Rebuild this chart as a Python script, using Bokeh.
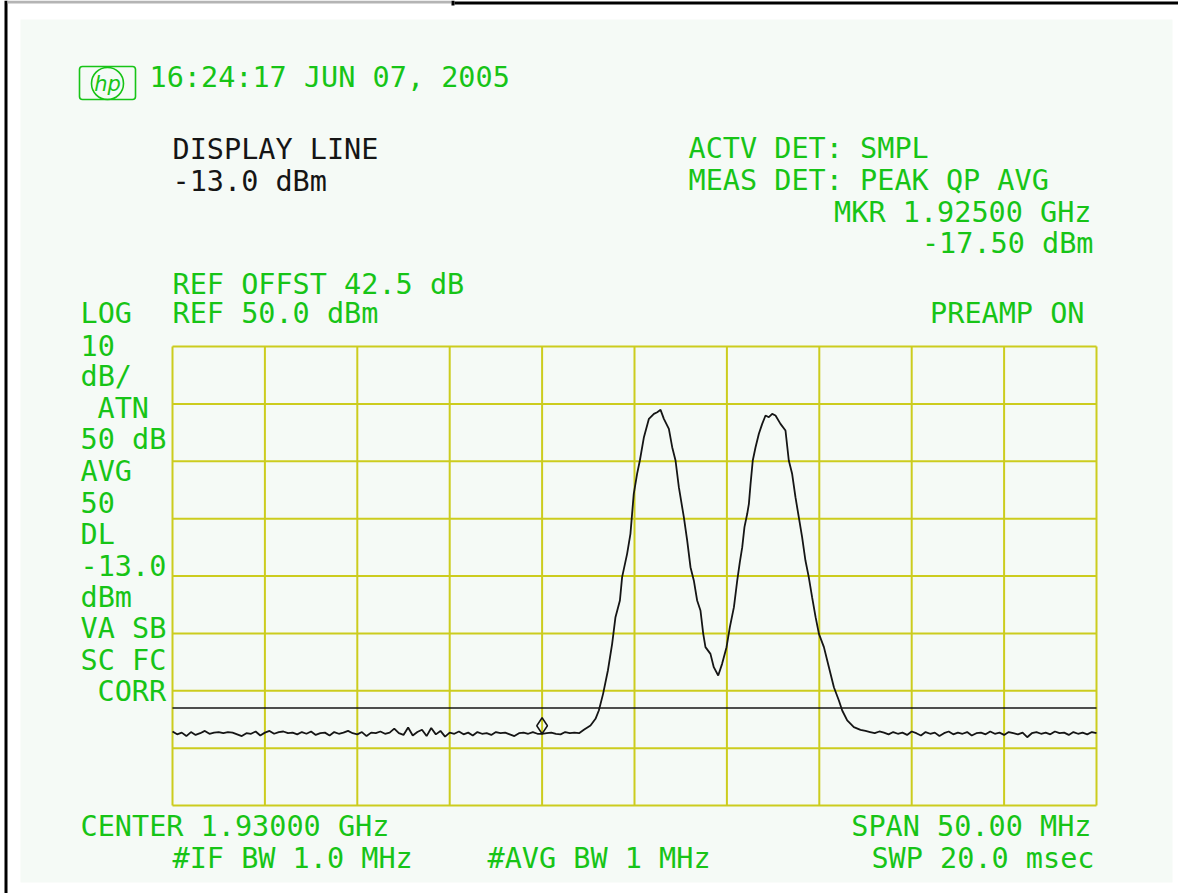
import numpy as np
from bokeh.plotting import figure
from bokeh.models import Range1d, Label, BoxAnnotation
from bokeh.embed import file_html
from bokeh.resources import INLINE

# ---- sweep settings -------------------------------------------------------
center_mhz = 1930.0
span_mhz = 50.0
ref_dbm = 50.0
db_per_div = 10.0
n_hdiv = 10
n_vdiv = 8
display_line_dbm = -13.0
marker_mhz = 1925.0
marker_dbm = -17.50

# ---- measured trace -------------------------------------------------------
# noise floor below the carriers, 0.25 MHz bins from 1905 MHz
noise_left_start_mhz = 1905.0
noise_step_mhz = 0.25
noise_left_dbm = [
    -17.1, -17.6, -17.3, -17.9, -17.2, -17.7, -17.4, -17.0, -17.5, -17.3,
    -17.2, -17.4, -17.2, -17.3, -17.6, -17.9, -17.4, -17.5, -17.1, -17.8,
    -17.3, -17.0, -17.5, -17.2, -17.1, -17.4, -17.3, -17.6, -17.2, -17.5,
    -17.1, -17.7, -17.4, -17.3, -17.8, -17.2, -17.5, -17.3, -17.0, -17.4,
    -17.6, -17.2, -17.9, -17.3, -17.4, -17.1, -17.5, -17.3, -16.6, -17.4,
    -17.7, -16.4, -17.8, -17.2, -16.8, -17.9, -16.5, -17.6, -17.0, -18.0,
    -17.3, -17.5, -17.1, -17.6, -17.3, -17.8, -17.2, -17.5, -17.4, -17.7,
    -17.2, -17.4, -17.3, -17.6, -17.9, -17.4, -17.3, -17.5, -17.2, -17.5,
    -17.5, -17.4, -17.3, -17.5, -17.6, -17.2, -17.4, -17.3, -17.4,
]

# the two carriers
burst_mhz = [
    1927.26, 1927.62, 1927.89, 1928.07, 1928.30, 1928.56, 1928.79, 1928.97,
    1929.21, 1929.33, 1929.60, 1929.78, 1929.87, 1929.96, 1930.14, 1930.29,
    1930.51, 1930.78, 1931.05, 1931.23, 1931.41, 1931.59, 1931.86, 1932.04,
    1932.22, 1932.40, 1932.67, 1932.85, 1933.03, 1933.21, 1933.39, 1933.57,
    1933.72, 1933.84, 1934.11, 1934.29, 1934.53, 1934.74, 1934.98, 1935.16,
    1935.38, 1935.56, 1935.70, 1935.83, 1935.95, 1936.10, 1936.19, 1936.28,
    1936.40, 1936.55, 1936.73, 1936.91, 1937.09, 1937.27, 1937.45, 1937.63,
    1937.90, 1938.17, 1938.35, 1938.53, 1938.71, 1938.89, 1939.07, 1939.25,
    1939.43, 1939.61, 1939.80, 1939.98, 1940.25, 1940.52, 1940.79, 1941.06,
    1941.24, 1941.51, 1941.87, 1942.23,
]
burst_dbm = [
    -16.81, -16.06, -14.89, -13.44, -10.54, -6.47, -1.82, 2.82,
    5.73, 9.80, 13.86, 17.35, 20.84, 24.32, 27.81, 30.13,
    34.20, 37.39, 38.26, 38.55, 38.96, 37.39, 35.65, 32.45,
    30.13, 25.48, 20.25, 16.19, 11.54, 9.22, 5.73, 3.99,
    -0.08, -2.40, -3.57, -5.89, -7.34, -5.31, -2.40, 1.08,
    4.57, 9.22, 12.41, 15.03, 18.51, 20.84, 22.58, 26.06,
    30.13, 32.45, 34.78, 36.52, 37.97, 37.68, 38.26, 37.97,
    36.52, 35.36, 30.13, 27.81, 23.74, 20.25, 16.77, 12.70,
    9.80, 6.31, 2.82, -0.08, -2.40, -5.89, -9.38, -11.70,
    -13.44, -15.18, -16.34, -16.81,
]

# noise floor above the carriers
noise_right_start_mhz = 1942.5
noise_right_dbm = [
    -17.0, -17.2, -17.4, -17.1, -17.3, -17.6, -17.2, -17.5, -17.3, -17.7,
    -17.1, -17.4, -17.8, -17.2, -17.5, -17.3, -17.9, -17.4, -17.1, -17.6,
    -17.3, -17.5, -17.2, -17.8, -17.4, -17.3, -17.6, -17.1, -17.5, -17.3,
    -17.7, -17.2, -17.4, -17.6, -17.3, -18.1, -17.4, -17.2, -17.5, -17.3,
    -17.6, -17.1, -17.4, -17.3, -17.7, -17.2, -17.5, -17.3, -17.6, -17.2, -17.4,
]

# ---- colours / layout -----------------------------------------------------
GREEN = "#17c417"
GRID = "#cccc1e"
PANEL = "#f5faf6"
INK = "#151515"
FONT = "DejaVu Sans Mono"
FSIZE = "28.5px"

W, H = 1178, 893
GX0, GX1, GY0, GY1 = 172, 1096, 346, 805   # graticule box on the canvas

f_lo = center_mhz - span_mhz / 2
f_hi = center_mhz + span_mhz / 2
db_lo = ref_dbm - n_vdiv * db_per_div
mhz_per_px = span_mhz / (GX1 - GX0)
db_per_px = (n_vdiv * db_per_div) / (GY1 - GY0)

x_range = Range1d(f_lo - GX0 * mhz_per_px, f_hi + (W - GX1) * mhz_per_px)
y_range = Range1d(db_lo - (H - GY1) * db_per_px, ref_dbm + GY0 * db_per_px)


def Y(py):
    """canvas row (top-down) -> screen units (bottom-up)"""
    return H - py


p = figure(width=W, height=H, x_range=x_range, y_range=y_range,
           x_axis_type=None, y_axis_type=None, toolbar_location=None,
           output_backend="svg", min_border=0,
           background_fill_color="white", border_fill_color="white",
           outline_line_color=None)


def box(l, r, t, b, fill=None, line=None, lw=1, radius=0, level="underlay"):
    bx = BoxAnnotation(left=l, right=r, top=Y(t), bottom=Y(b),
                       left_units="screen", right_units="screen",
                       top_units="screen", bottom_units="screen",
                       fill_color=fill, fill_alpha=1 if fill else 0,
                       line_color=line, line_width=lw, line_alpha=1 if line else 0,
                       border_radius=radius, level=level)
    p.add_layout(bx)


# screen panel and window frame
box(20, 1172, 19, 882, fill=PANEL)
box(4, 7, 0, H, fill="black")
box(7, 451, 0, 3, fill="#b4b4b4")
box(451, 454, 0, 5, fill="black")
box(454, W, 1, 4, fill="black")

# graticule
x_div = [f_lo + i * span_mhz / n_hdiv for i in range(n_hdiv + 1)]
y_div = [db_lo + j * db_per_div for j in range(n_vdiv + 1)]
p.segment(x0=x_div, y0=db_lo, x1=x_div, y1=ref_dbm, line_color=GRID, line_width=2)
p.segment(x0=f_lo, y0=y_div, x1=f_hi, y1=y_div, line_color=GRID, line_width=2)

# display line
p.segment(x0=[f_lo], y0=[display_line_dbm], x1=[f_hi], y1=[display_line_dbm],
          line_color=INK, line_width=1.6)

# trace
left_f = noise_left_start_mhz + noise_step_mhz * np.arange(len(noise_left_dbm))
right_f = noise_right_start_mhz + noise_step_mhz * np.arange(len(noise_right_dbm))
trace_f = np.concatenate([left_f, burst_mhz, right_f])
trace_db = np.concatenate([noise_left_dbm, burst_dbm, noise_right_dbm])
p.line(trace_f, trace_db, line_color=INK, line_width=1.8)

# marker: diamond standing on the trace point
mk_size = 16
p.scatter([marker_mhz], [marker_dbm + (mk_size / 2) * db_per_px], marker="diamond",
          size=mk_size, fill_color=None, line_color=INK, line_width=1.5)

# logo
box(79, 135, 66, 99, line=GREEN, lw=1.6, radius=3, level="overlay")
p.scatter([x_range.start + 107 * mhz_per_px], [y_range.end - 83 * db_per_px],
          marker="circle", size=32, fill_color=None, line_color=GREEN, line_width=1.6)
p.add_layout(Label(x=107, y=Y(83), x_units="screen", y_units="screen", text="hp",
                   text_font="DejaVu Sans", text_font_style="italic",
                   text_font_size="21px", text_color=GREEN,
                   text_align="center", text_baseline="middle"))

TEXT_SHIFT = 11   # lift from glyph baseline to the label anchor


def txt(s, x, base, color=GREEN, align="left"):
    p.add_layout(Label(x=x, y=Y(base - TEXT_SHIFT), x_units="screen", y_units="screen",
                       text=s, text_font=FONT, text_font_size=FSIZE, text_color=color,
                       text_align=align, text_baseline="alphabetic"))


txt("16:24:17 JUN 07, 2005", 149, 88)
txt("DISPLAY LINE", 172, 160, color=INK)
txt("-13.0 dBm", 172, 192, color=INK)
txt("ACTV DET: SMPL", 688, 159)
txt("MEAS DET: PEAK QP AVG", 688, 191)
txt("MKR 1.92500 GHz", 1091, 223, align="right")
txt("-17.50 dBm", 1093, 254, align="right")
txt("REF OFFST 42.5 dB", 172, 295)
txt("LOG", 80, 324)
txt("REF 50.0 dBm", 172, 324)
txt("PREAMP ON", 1084, 324, align="right")

side_lines = ["10", "dB/", "ATN", "50 dB", "AVG", "50", "DL", "-13.0",
              "dBm", "VA SB", "SC FC", "CORR"]
for k, s in enumerate(side_lines):
    indent = 97 if s in ("ATN", "CORR") else 80
    txt(s, indent, 356 + k * 31.45)

txt("CENTER 1.93000 GHz", 80, 837)
txt("SPAN 50.00 MHz", 1091, 837, align="right")
txt("#IF BW 1.0 MHz", 172, 869)
txt("#AVG BW 1 MHz", 487, 869)
txt("SWP 20.0 msec", 1094, 869, align="right")

open("out.html", "w").write(file_html(p, INLINE))
